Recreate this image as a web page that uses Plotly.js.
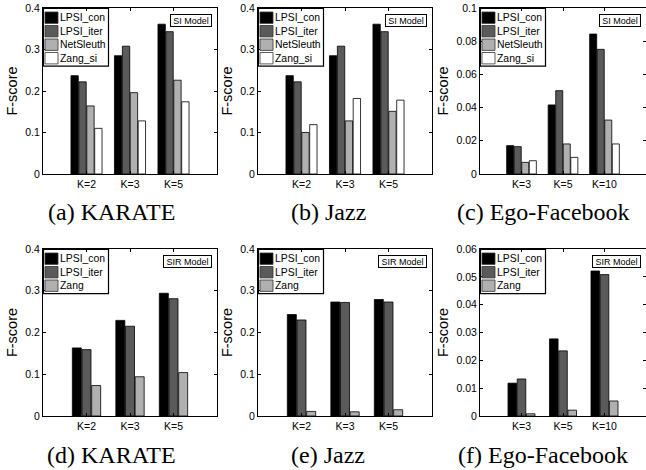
<!DOCTYPE html>
<html><head><meta charset="utf-8">
<script src="https://cdn.plot.ly/plotly-3.0.1.min.js"></script>
<style>html,body{margin:0;padding:0;background:#fff}#chart{width:646px;height:470px}</style>
</head><body><div id="chart"></div>
<script>
// ---- data ----
const siSeries = ['LPSI_con', 'LPSI_iter', 'NetSleuth', 'Zang_si'];
const sirSeries = ['LPSI_con', 'LPSI_iter', 'Zang'];
const kSmall = ['K=2', 'K=3', 'K=5'];
const kFacebook = ['K=3', 'K=5', 'K=10'];

// (a) KARATE, SI model
const karateSI_con  = [0.237, 0.285, 0.361];
const karateSI_iter = [0.222, 0.308, 0.343];
const karateSI_net  = [0.164, 0.196, 0.226];
const karateSI_zang = [0.110, 0.128, 0.174];
// (b) Jazz, SI model
const jazzSI_con  = [0.237, 0.285, 0.361];
const jazzSI_iter = [0.222, 0.308, 0.343];
const jazzSI_net  = [0.100, 0.128, 0.151];
const jazzSI_zang = [0.119, 0.182, 0.178];
// (c) Ego-Facebook, SI model
const fbSI_con  = [0.0171, 0.0416, 0.0843];
const fbSI_iter = [0.0165, 0.0502, 0.0751];
const fbSI_net  = [0.0070, 0.0181, 0.0325];
const fbSI_zang = [0.0080, 0.0100, 0.0181];
// (d) KARATE, SIR model
const karateSIR_con  = [0.163, 0.229, 0.294];
const karateSIR_iter = [0.159, 0.215, 0.281];
const karateSIR_zang = [0.073, 0.094, 0.104];
// (e) Jazz, SIR model
const jazzSIR_con  = [0.243, 0.273, 0.279];
const jazzSIR_iter = [0.230, 0.272, 0.273];
const jazzSIR_zang = [0.011, 0.010, 0.015];
// (f) Ego-Facebook, SIR model
const fbSIR_con  = [0.0118, 0.0277, 0.0521];
const fbSIR_iter = [0.0133, 0.0234, 0.0508];
const fbSIR_zang = [0.0008, 0.0021, 0.0054];

const captions = ['(a) KARATE', '(b) Jazz', '(c) Ego-Facebook', '(d) KARATE', '(e) Jazz', '(f) Ego-Facebook'];
const models = ['SI Model', 'SIR Model'];

// ---- styling / layout ----
const colors = ['#000000', '#5a5a5a', '#b0b0b0', '#ffffff'];
const FW = 646, FH = 470;
const SANS = 'Liberation Sans, Arial, Helvetica, sans-serif';
const SERIF = 'Liberation Serif, Times New Roman, serif';

const panels = [
  {cats: kSmall, names: siSeries, vals: [karateSI_con, karateSI_iter, karateSI_net, karateSI_zang], ymax: 0.4, dtick: 0.1, model: models[0], px: [43, 217], py: [8, 174], cap: [111, 212]},
  {cats: kSmall, names: siSeries, vals: [jazzSI_con, jazzSI_iter, jazzSI_net, jazzSI_zang], ymax: 0.4, dtick: 0.1, model: models[0], px: [258, 432], py: [8, 174], cap: [328, 212]},
  {cats: kFacebook, names: siSeries, vals: [fbSI_con, fbSI_iter, fbSI_net, fbSI_zang], ymax: 0.1, dtick: 0.02, model: models[0], px: [480, 646], py: [8, 174], cap: [543, 212]},
  {cats: kSmall, names: sirSeries, vals: [karateSIR_con, karateSIR_iter, karateSIR_zang], ymax: 0.4, dtick: 0.1, model: models[1], px: [43, 217], py: [249, 416], cap: [111, 455]},
  {cats: kSmall, names: sirSeries, vals: [jazzSIR_con, jazzSIR_iter, jazzSIR_zang], ymax: 0.4, dtick: 0.1, model: models[1], px: [258, 432], py: [249, 416], cap: [328, 455]},
  {cats: kFacebook, names: sirSeries, vals: [fbSIR_con, fbSIR_iter, fbSIR_zang], ymax: 0.06, dtick: 0.01, model: models[1], px: [480, 646], py: [249, 416], cap: [543, 455]}
];

const data = [];
const layout = {
  width: FW, height: FH,
  margin: {l: 0, r: 0, t: 0, b: 0},
  barmode: 'overlay',
  showlegend: false,
  paper_bgcolor: '#ffffff', plot_bgcolor: '#ffffff',
  font: {family: SANS, size: 10.5, color: '#000'},
  shapes: [], annotations: []
};

// pixel -> paper helpers
const PX = v => v / FW, PY = v => 1 - v / FH;

panels.forEach((p, k) => {
  const suf = k ? String(k + 1) : '';
  const xa = 'x' + suf, ya = 'y' + suf;
  const n = p.names.length;
  const gw = n / (n + 1.5), slot = gw / n, bw = slot * 0.93;
  p.names.forEach((nm, i) => {
    data.push({
      type: 'bar', x: p.cats, y: p.vals[i], name: nm,
      xaxis: xa, yaxis: ya,
      width: bw, offset: -gw / 2 + i * slot + (slot - bw) / 2,
      marker: {color: colors[i], line: {color: '#000', width: 0.8}},
      hovertemplate: nm + ': %{y}<extra></extra>'
    });
  });
  layout['xaxis' + suf] = {
    domain: [PX(p.px[0]), Math.min(PX(p.px[1]), 1)], anchor: ya,
    type: 'category', range: [-1, 3],
    showline: true, linecolor: '#000', linewidth: 1, mirror: 'allticks',
    ticks: 'inside', ticklen: 3, tickcolor: '#000', tickwidth: 1,
    showgrid: false, zeroline: false, fixedrange: true,
    tickfont: {size: 10.5, family: SANS}
  };
  layout['yaxis' + suf] = {
    domain: [PY(p.py[1]), PY(p.py[0])], anchor: xa,
    range: [0, p.ymax], tick0: 0, dtick: p.dtick,
    showline: true, linecolor: '#000', linewidth: 1, mirror: 'allticks',
    ticks: 'inside', ticklen: 3, tickcolor: '#000', tickwidth: 1,
    showgrid: false, zeroline: false, fixedrange: true,
    tickfont: {size: 10.5, family: SANS},
    title: {text: 'F-score', font: {size: 14.5, family: SANS}, standoff: 4}
  };

  // legend (manual, MATLAB-like), in paper coordinates
  const ox = p.px[0], oy = p.py[0];
  const first = 9.7, step = 13.5;
  const boxH = first + step * (n - 1) + 8;
  layout.shapes.push({type: 'rect', xref: 'paper', yref: 'paper',
    x0: PX(ox + 0.5), x1: PX(ox + 65.5), y0: PY(oy + 0.5), y1: PY(oy + boxH),
    line: {color: '#000000', width: 1.2}, fillcolor: 'rgba(0,0,0,0)', layer: 'above'});
  p.names.forEach((nm, i) => {
    const c = first + step * i;
    layout.shapes.push({type: 'rect', xref: 'paper', yref: 'paper',
      x0: PX(ox + 2), x1: PX(ox + 15), y0: PY(oy + c - 5.7), y1: PY(oy + c + 5.7),
      line: {color: '#333', width: 0.8}, fillcolor: colors[i], opacity: 1, layer: 'above'});
    layout.annotations.push({xref: 'paper', yref: 'paper', x: PX(ox + 15), y: PY(oy + c),
      xanchor: 'left', yanchor: 'middle', text: nm, showarrow: false,
      font: {size: 10.4, family: SANS, color: '#000'}});
  });
  // model box
  const mw = p.model === 'SI Model' ? 40 : 47;
  layout.annotations.push({xref: 'paper', yref: 'paper', x: PX(p.px[1] - 5), y: PY(oy + 5.5),
    xanchor: 'right', yanchor: 'top',
    text: p.model, showarrow: false, width: mw, height: 11, borderpad: 0, borderwidth: 1,
    bordercolor: '#000', bgcolor: '#fff', font: {size: 9, family: SANS, color: '#000'}});
  // caption
  layout.annotations.push({xref: 'paper', yref: 'paper', x: PX(p.cap[0]), y: PY(p.cap[1]),
    xanchor: 'center', yanchor: 'middle', text: captions[k], showarrow: false,
    font: {size: 24, family: SERIF, color: '#000'}});
});

Plotly.newPlot('chart', data, layout, {displayModeBar: false, staticPlot: true});
</script>
</body></html>
